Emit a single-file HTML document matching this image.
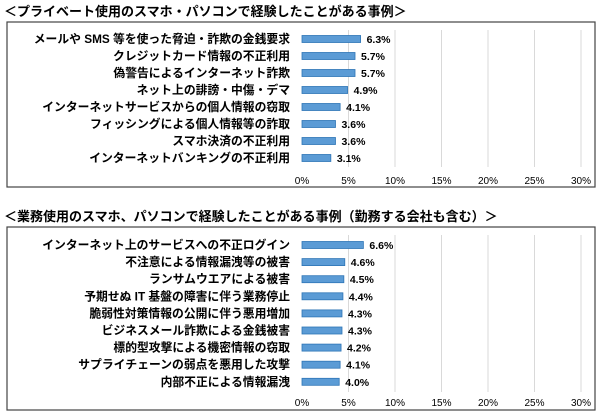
<!DOCTYPE html>
<html><head><meta charset="utf-8"><style>
body{margin:0;background:#fff;width:600px;height:414px;overflow:hidden;font-family:"Liberation Sans","Noto Sans CJK JP",sans-serif;}
svg text{font-family:"Liberation Sans","Noto Sans CJK JP",sans-serif;}
</style></head><body>
<svg width="600" height="414">
<g id="c1"></g>
<g id="c2"></g>
</svg>
<script>
const cats1=["メールや SMS 等を使った脅迫・詐欺の金銭要求","クレジットカード情報の不正利用","偽警告によるインターネット詐欺","ネット上の誹謗・中傷・デマ","インターネットサービスからの個人情報の窃取","フィッシングによる個人情報等の詐取","スマホ決済の不正利用","インターネットバンキングの不正利用"];
const vals1=[6.3,5.7,5.7,4.9,4.1,3.6,3.6,3.1];
const cats2=["インターネット上のサービスへの不正ログイン","不注意による情報漏洩等の被害","ランサムウエアによる被害","予期せぬ IT 基盤の障害に伴う業務停止","脆弱性対策情報の公開に伴う悪用増加","ビジネスメール詐欺による金銭被害","標的型攻撃による機密情報の窃取","サプライチェーンの弱点を悪用した攻撃","内部不正による情報漏洩"];
const vals2=[6.6,4.6,4.5,4.4,4.3,4.3,4.2,4.1,4.0];
const ticks=[0,5,10,15,20,25,30];
const NS="http://www.w3.org/2000/svg";
const x=v=>302+v*9.3;
function mk(p,t,a){const e=document.createElementNS(NS,t);for(const k in a)e.setAttribute(k,a[k]);p.appendChild(e);return e;}
function draw(g,title,cats,vals,o){
  const t=mk(g,'text',{x:4,y:o.ty,'font-size':13,'font-weight':'bold',fill:'#000'});t.textContent=title;
  
  
  const b=mk(g,'rect',{x:7,y:o.by,width:588,height:o.bh,fill:'#fff',stroke:'#444','stroke-width':1.2});
  
  
  ticks.forEach(tk=>{
    if(tk>0){const l=mk(g,'line',{x1:x(tk),x2:x(tk),y1:o.g0,y2:o.g1,stroke:'#d9d9d9','stroke-width':1});
    
    }
    const tl=mk(g,'text',{x:x(tk),y:o.tly,'font-size':10,'text-anchor':'middle',fill:'#000'});tl.textContent=tk+'%';
    
    
  });
  cats.forEach((c,i)=>{
    const cy=o.c0+i*o.sp;
    const lb=mk(g,'text',{x:290,y:cy+4,'font-size':11.8,'font-weight':'bold','text-anchor':'end',fill:'#000'});lb.textContent=c;
    
    
    const r=mk(g,'rect',{x:x(0),y:cy-3.5,width:x(vals[i])-x(0),height:7,fill:'#5b9bd5',stroke:'#2e75b6','stroke-width':0.8});
    
    
    const v=mk(g,'text',{x:x(vals[i])+6,y:cy+4,'font-size':10.5,'font-weight':'bold',fill:'#000'});v.textContent=vals[i].toFixed(1)+'%';
    
    
  });
}
draw(document.getElementById('c1'),'＜プライベート使用のスマホ・パソコンで経験したことがある事例＞',cats1,vals1,{ty:16,by:22,bh:165,g0:30,g1:167,tly:184,c0:39,sp:17});
draw(document.getElementById('c2'),'＜業務使用のスマホ、パソコンで経験したことがある事例（勤務する会社も含む）＞',cats2,vals2,{ty:221,by:227,bh:183,g0:235,g1:392,tly:406,c0:245,sp:17.1});
</script>
</body></html>
